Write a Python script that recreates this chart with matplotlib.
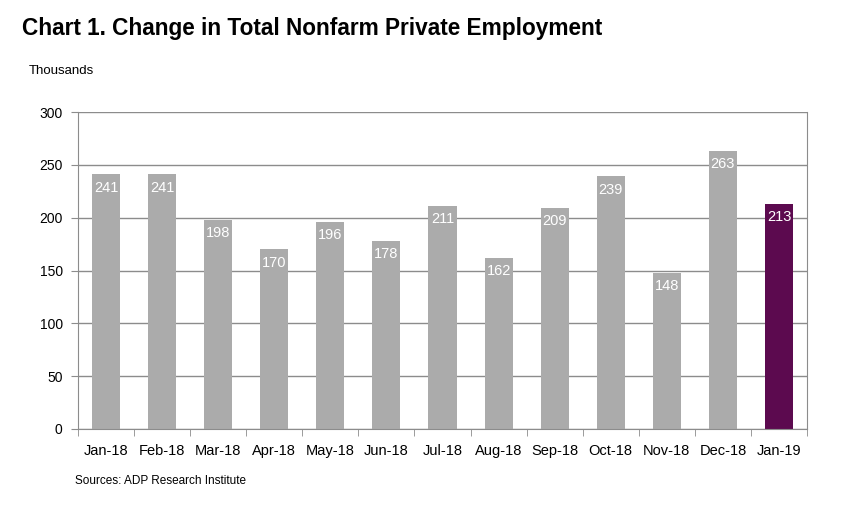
import matplotlib.pyplot as plt
import numpy as np

plt.rcParams['font.family'] = ['Liberation Sans', 'DejaVu Sans']

months = ['Jan-18', 'Feb-18', 'Mar-18', 'Apr-18', 'May-18', 'Jun-18', 'Jul-18',
          'Aug-18', 'Sep-18', 'Oct-18', 'Nov-18', 'Dec-18', 'Jan-19']
values = [241, 241, 198, 170, 196, 178, 211, 162, 209, 239, 148, 263, 213]
yticks = [0, 50, 100, 150, 200, 250, 300]

GRAY = '#ABABAB'
PURPLE = '#5C0A4F'
LINE = '#8C8C8C'

fig = plt.figure(figsize=(8.51, 5.07), dpi=100)
ax = fig.add_axes([78 / 851, 1 - 429 / 507, (807 - 78) / 851, (429 - 112) / 507])

x = np.arange(len(months))
colors = [GRAY] * (len(months) - 1) + [PURPLE]
ax.bar(x, values, width=0.5, color=colors, zorder=2)

# value labels sit inside the top of each bar
for xi, v in zip(x, values):
    ax.text(xi, v - 6, str(v), ha='center', va='top', color='white',
            fontsize=10.5, zorder=3)

ax.set_xlim(-0.5, len(months) - 0.5)
ax.set_ylim(0, 300)
ax.set_yticks(yticks)
ax.set_yticklabels([str(t) for t in yticks], fontsize=10)
ax.yaxis.grid(True, color=LINE, linewidth=1, zorder=1)
ax.set_axisbelow(True)

ax.set_xticks(x)
ax.set_xticklabels(months, fontsize=10.5)
ax.tick_params(axis='x', which='major', length=0, pad=11)
ax.set_xticks(np.arange(len(months) + 1) - 0.5, minor=True)
ax.tick_params(axis='x', which='minor', length=5, color=LINE, direction='out')
ax.tick_params(axis='y', length=5, color=LINE, pad=6)

for side in ['left', 'bottom', 'right']:
    ax.spines[side].set_color(LINE)
ax.spines['top'].set_visible(False)

fig.text(22 / 851, 1 - 28 / 507, 'Chart 1. Change in Total Nonfarm Private Employment',
         fontsize=16.3, fontweight='bold', va='center', ha='left')
fig.text(29 / 851, 1 - 71 / 507, 'Thousands', fontsize=9.5, va='center', ha='left')
fig.text(75 / 851, 1 - 481 / 507, 'Sources: ADP Research Institute', fontsize=8.5,
         va='center', ha='left')

fig.savefig('out.png', dpi=100, facecolor='white')
